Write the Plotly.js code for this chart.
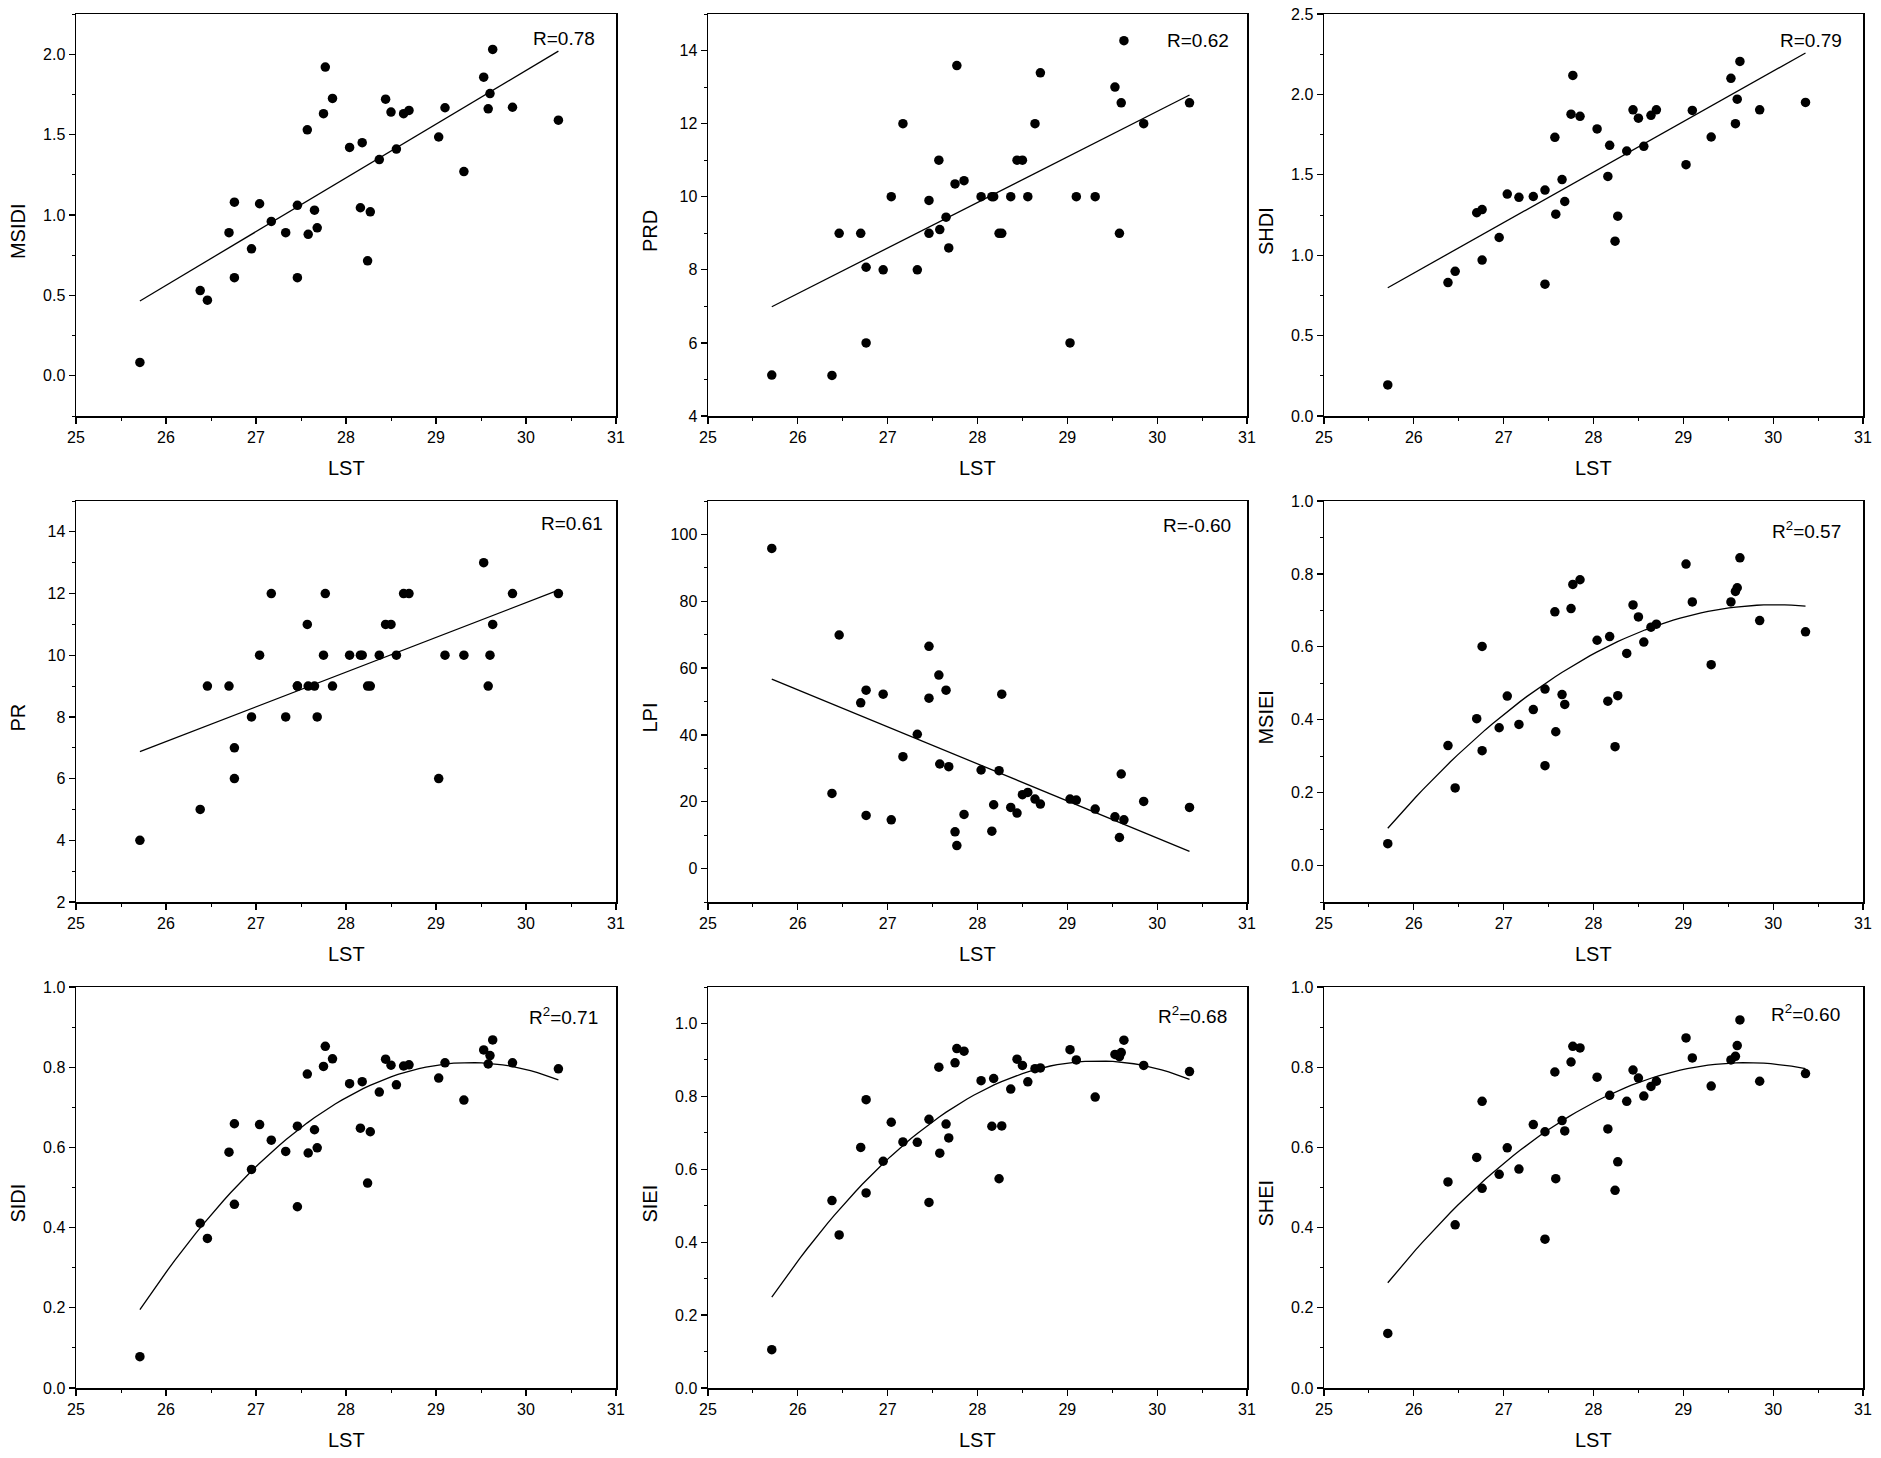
<!DOCTYPE html>
<html>
<head>
<meta charset="utf-8">
<script src="https://cdn.plot.ly/plotly-3.0.1.min.js"></script>
<style>
  html, body { margin: 0; padding: 0; background: #fff; }
  #myDiv { width: 1881px; height: 1458px; }
</style>
</head>
<body>
<div id="myDiv"></div>
<script>
  // land surface temperature of the 39 sample sites (shared x values)
  var lst = [25.71, 26.38, 26.46, 26.70, 26.76, 26.76, 26.95, 27.04, 27.17, 27.33,
             27.46, 27.46, 27.57, 27.58, 27.65, 27.68, 27.75, 27.77, 27.85, 28.04,
             28.16, 28.18, 28.24, 28.27, 28.37, 28.44, 28.50, 28.56, 28.64, 28.70,
             29.03, 29.10, 29.31, 29.53, 29.58, 29.60, 29.63, 29.85, 30.36];

  var msidi = [0.083, 0.53, 0.47, 0.89, 1.08, 0.61, 0.79, 1.07, 0.96, 0.89,
               0.61, 1.06, 1.53, 0.88, 1.03, 0.92, 1.63, 1.92, 1.725, 1.42,
               1.045, 1.45, 0.715, 1.02, 1.345, 1.72, 1.64, 1.41, 1.63, 1.65,
               1.485, 1.667, 1.27, 1.857, 1.66, 1.755, 2.03, 1.67, 1.59];

  var prd = [5.12, 5.11, 9.0, 9.0, 8.07, 6.0, 8.0, 10.0, 12.0, 8.0,
             9.0, 9.9, 11.0, 9.1, 9.44, 8.6, 10.35, 13.59, 10.44, 10.0,
             10.0, 10.0, 9.0, 9.0, 10.0, 11.0, 11.0, 10.0, 12.0, 13.39,
             6.0, 10.0, 10.0, 13.0, 9.0, 12.57, 14.27, 12.0, 12.57];

  var shdi = [0.193, 0.83, 0.90, 1.264, 1.284, 0.97, 1.11, 1.38, 1.36, 1.365,
              0.82, 1.405, 1.733, 1.255, 1.47, 1.334, 1.877, 2.118, 1.864, 1.785,
              1.49, 1.683, 1.087, 1.243, 1.648, 1.904, 1.852, 1.677, 1.87, 1.904,
              1.563, 1.90, 1.735, 2.10, 1.818, 1.97, 2.205, 1.904, 1.95];

  var pr = [4, 5, 9, 9, 7, 6, 8, 10, 12, 8,
            9, 9, 11, 9, 9, 8, 10, 12, 9, 10,
            10, 10, 9, 9, 10, 11, 11, 10, 12, 12,
            6, 10, 10, 13, 9, 10, 11, 12, 12];

  var lpi = [95.8, 22.5, 69.9, 49.6, 53.4, 15.9, 52.2, 14.6, 33.5, 40.2,
             66.5, 51.0, 57.9, 31.3, 53.4, 30.5, 11.0, 6.9, 16.2, 29.5,
             11.2, 19.1, 29.3, 52.2, 18.3, 16.6, 22.1, 22.8, 20.8, 19.3,
             20.8, 20.5, 17.8, 15.5, 9.3, 28.3, 14.6, 20.1, 18.3];

  var msiei = [0.060, 0.329, 0.213, 0.403, 0.601, 0.315, 0.378, 0.465, 0.387, 0.428,
               0.274, 0.484, 0.696, 0.367, 0.469, 0.442, 0.705, 0.771, 0.784, 0.618,
               0.451, 0.628, 0.326, 0.466, 0.582, 0.715, 0.682, 0.613, 0.654, 0.662,
               0.827, 0.723, 0.551, 0.723, 0.752, 0.762, 0.844, 0.672, 0.641];

  var sidi = [0.078, 0.411, 0.373, 0.588, 0.659, 0.458, 0.545, 0.657, 0.618, 0.590,
              0.452, 0.653, 0.783, 0.586, 0.644, 0.599, 0.802, 0.852, 0.821, 0.759,
              0.648, 0.764, 0.511, 0.639, 0.738, 0.820, 0.805, 0.756, 0.803, 0.806,
              0.773, 0.811, 0.718, 0.843, 0.808, 0.829, 0.868, 0.811, 0.796];

  var siei = [0.105, 0.514, 0.420, 0.660, 0.791, 0.535, 0.622, 0.729, 0.675, 0.674,
              0.509, 0.737, 0.880, 0.644, 0.724, 0.686, 0.892, 0.931, 0.924, 0.843,
              0.718, 0.849, 0.574, 0.719, 0.820, 0.902, 0.885, 0.840, 0.876, 0.878,
              0.928, 0.900, 0.798, 0.915, 0.909, 0.920, 0.954, 0.885, 0.868];

  var shei = [0.136, 0.514, 0.407, 0.575, 0.715, 0.498, 0.533, 0.599, 0.546, 0.657,
              0.371, 0.639, 0.788, 0.522, 0.667, 0.641, 0.813, 0.852, 0.848, 0.775,
              0.646, 0.730, 0.493, 0.564, 0.715, 0.793, 0.773, 0.728, 0.752, 0.765,
              0.873, 0.823, 0.753, 0.818, 0.827, 0.854, 0.918, 0.765, 0.784];

  var indexNames = ['MSIDI', 'PRD', 'SHDI', 'PR', 'LPI', 'MSIEI', 'SIDI', 'SIEI', 'SHEI'];
  var indexValues = [msidi, prd, shdi, pr, lpi, msiei, sidi, siei, shei];
  var fitDegree = [1, 1, 1, 1, 1, 2, 2, 2, 2];
  var statLabels = ['R=0.78', 'R=0.62', 'R=0.79', 'R=0.61', 'R=-0.60',
                    'R<sup>2</sup>=0.57', 'R<sup>2</sup>=0.71', 'R<sup>2</sup>=0.68', 'R<sup>2</sup>=0.60'];

  // axis settings per panel
  var yAxes = [
    {range: [-0.25, 2.25], dtick: 0.5, minor: 0.25, fmt: '.1f'},
    {range: [4, 15], dtick: 2, minor: 1, fmt: 'd'},
    {range: [0, 2.5], dtick: 0.5, minor: 0.25, fmt: '.1f'},
    {range: [2, 15], dtick: 2, minor: 1, fmt: 'd'},
    {range: [-10, 110], dtick: 20, minor: 10, fmt: 'd'},
    {range: [-0.1, 1.0], dtick: 0.2, minor: 0.1, fmt: '.1f'},
    {range: [0, 1.0], dtick: 0.2, minor: 0.1, fmt: '.1f'},
    {range: [0, 1.1], dtick: 0.2, minor: 0.1, fmt: '.1f'},
    {range: [0, 1.0], dtick: 0.2, minor: 0.1, fmt: '.1f'}
  ];

  var W = 1881, H = 1458;
  var colPx = [[76, 616], [708, 1247], [1324, 1863]];
  var rowPx = [[14, 416], [501, 902], [987, 1388]];
  var labelPos = [[0.903, 0.938], [0.91, 0.935], [0.903, 0.935],
                  [0.918, 0.943], [0.908, 0.939], [0.895, 0.928],
                  [0.902, 0.928], [0.899, 0.929], [0.893, 0.935]];

  var font = 'Liberation Sans, Arial, sans-serif';

  // least squares polynomial fit
  function polyfit(xs, ys, deg) {
    var n = deg + 1;
    var A = [], b = [];
    for (var r = 0; r < n; r++) {
      A.push([]);
      for (var c = 0; c < n; c++) {
        var s = 0;
        for (var i = 0; i < xs.length; i++) s += Math.pow(xs[i], r + c);
        A[r].push(s);
      }
      var t = 0;
      for (var i = 0; i < xs.length; i++) t += ys[i] * Math.pow(xs[i], r);
      b.push(t);
    }
    for (var p = 0; p < n; p++) {
      for (var r = p + 1; r < n; r++) {
        var f = A[r][p] / A[p][p];
        for (var c = p; c < n; c++) A[r][c] -= f * A[p][c];
        b[r] -= f * b[p];
      }
    }
    var coef = new Array(n);
    for (var r = n - 1; r >= 0; r--) {
      var s = b[r];
      for (var c = r + 1; c < n; c++) s -= A[r][c] * coef[c];
      coef[r] = s / A[r][r];
    }
    return coef;
  }

  function evalPoly(coef, x) {
    var v = 0;
    for (var k = 0; k < coef.length; k++) v += coef[k] * Math.pow(x, k);
    return v;
  }

  var data = [];
  var layout = {
    width: W, height: H,
    margin: {l: 0, r: 0, t: 0, b: 0},
    paper_bgcolor: '#fff', plot_bgcolor: '#fff',
    showlegend: false,
    font: {family: font, color: '#000'},
    annotations: []
  };

  var xmin = Math.min.apply(null, lst), xmax = Math.max.apply(null, lst);

  for (var k = 0; k < 9; k++) {
    var sfx = k === 0 ? '' : String(k + 1);
    var xa = 'x' + sfx, ya = 'y' + sfx;
    var col = k % 3, row = Math.floor(k / 3);

    data.push({
      x: lst, y: indexValues[k], xaxis: xa, yaxis: ya,
      type: 'scatter', mode: 'markers',
      marker: {color: '#000', size: 9.5},
      hoverinfo: 'x+y'
    });

    var coef = polyfit(lst, indexValues[k], fitDegree[k]);
    var fx = [], fy = [];
    var steps = fitDegree[k] === 1 ? 1 : 60;
    for (var s = 0; s <= steps; s++) {
      var xv = xmin + (xmax - xmin) * s / steps;
      fx.push(xv);
      fy.push(evalPoly(coef, xv));
    }
    data.push({
      x: fx, y: fy, xaxis: xa, yaxis: ya,
      type: 'scatter', mode: 'lines',
      line: {color: '#000', width: 1.3},
      hoverinfo: 'skip'
    });

    var cx = colPx[col], ry = rowPx[row];
    var axisStyle = {
      showgrid: false, zeroline: false,
      showline: true, mirror: true, linecolor: '#000', linewidth: 1.5,
      ticks: 'outside', ticklen: 6, tickwidth: 1.2, tickcolor: '#000',
      tickfont: {family: font, size: 16, color: '#000'}
    };

    layout['xaxis' + sfx] = Object.assign({}, axisStyle, {
      domain: [cx[0] / W, cx[1] / W],
      anchor: ya,
      range: [25, 31], dtick: 1, tick0: 25,
      minor: {ticks: 'outside', ticklen: 3, dtick: 0.5, tickcolor: '#000', tickwidth: 1}
    });
    var yy = yAxes[k];
    layout['yaxis' + sfx] = Object.assign({}, axisStyle, {
      domain: [1 - ry[1] / H, 1 - ry[0] / H],
      anchor: xa,
      range: yy.range, dtick: yy.dtick, tick0: 0, tickformat: yy.fmt,
      minor: {ticks: 'outside', ticklen: 3, dtick: yy.minor, tickcolor: '#000', tickwidth: 1}
    });

    // R label
    layout.annotations.push({
      xref: xa + ' domain', yref: ya + ' domain',
      x: labelPos[k][0], y: labelPos[k][1],
      xanchor: 'center', yanchor: 'middle',
      text: statLabels[k], showarrow: false,
      font: {family: font, size: 19, color: '#000'}
    });
    // y-axis title
    layout.annotations.push({
      xref: xa + ' domain', yref: ya + ' domain',
      x: -58 / (cx[1] - cx[0]), y: 0.46,
      xanchor: 'center', yanchor: 'middle', textangle: -90,
      text: indexNames[k], showarrow: false,
      font: {family: font, size: 20, color: '#000'}
    });
    // x-axis title
    layout.annotations.push({
      xref: xa + ' domain', yref: ya + ' domain',
      x: 0.5, y: -52 / (ry[1] - ry[0]),
      xanchor: 'center', yanchor: 'middle',
      text: 'LST', showarrow: false,
      font: {family: font, size: 20, color: '#000'}
    });
  }

  Plotly.newPlot('myDiv', data, layout, {displayModeBar: false, staticPlot: true});
</script>
</body>
</html>
